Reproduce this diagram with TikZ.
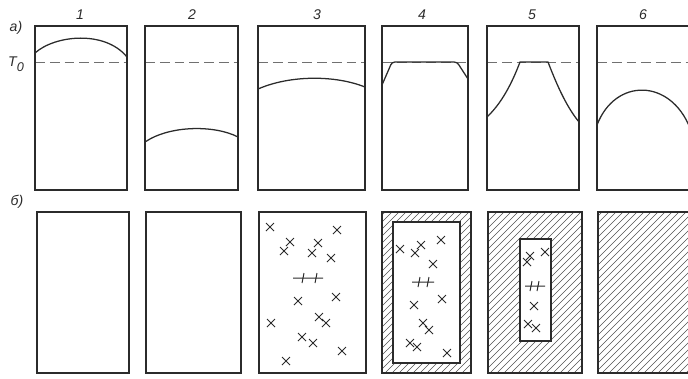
\documentclass[tikz,border=0pt]{standalone}
\usepackage{fontspec}
\setmainfont{Liberation Sans}
\usepackage{tikz}
\definecolor{PlateLine}{HTML}{2B2B2B}
\definecolor{PlateDash}{HTML}{707070}
\definecolor{PlateHatch}{HTML}{505050}

\begin{document}
\begin{tikzpicture}[x=0.025cm,y=-0.025cm,
    frame/.style={PlateLine,line width=1.1pt},
    prof/.style={PlateLine,line width=0.9pt},
    tnull/.style={PlateDash,line width=0.7pt,dash pattern=on 7pt off 3.5pt},
    hatch/.style={PlateHatch,line width=0.35pt},
    cross/.style={PlateLine,line width=0.7pt},
    lbl/.style={font=\fontsize{10}{12}\selectfont\itshape,text=PlateLine,inner sep=0pt}]
  \useasboundingbox (0,0) rectangle (688,378);

  % upper row: temperature over the cross-section
  \foreach \a/\b/\c/\n in {35/127/80/1,145/238/192/2,258/365/317/3,382/468/422/4,487/579/532/5,597/700/643/6} {
    \draw[tnull] (\a,62) -- (\b,62);
    \draw[frame] (\a,26) rectangle (\b,190);
    \node[lbl] (num\n) at (\c,15) {\n};
  }
  \draw[prof] (35,53) .. controls (55,35) and (105,30) .. (127,57);
  \draw[prof] (145,142) .. controls (170,125) and (215,125) .. (238,137);
  \draw[prof] (258,89) .. controls (290,75) and (335,75) .. (365,87);
  \draw[prof,rounded corners=2pt] (382,85) -- (392,62) -- (457,62) -- (468,79);
  \draw[prof] (487,117) .. controls (505,100) and (515,75) .. (520,62) -- (548,62)
    .. controls (555,80) and (565,105) .. (579,122);
  \draw[prof] (597,125) .. controls (615,78) and (670,78) .. (690,128);

  % lower row: structure
  \begin{scope}
    \clip (382,212) rectangle (471,373) (488,212) rectangle (582,373) (598,212) rectangle (700,373);
    \foreach \c in {590,597,...,1085}
      \draw[hatch] (\c-380,380) -- (\c-205,205);
  \end{scope}
  \foreach \a/\b in {37/129,146/241,259/366,382/471,488/582,598/700}
    \draw[frame] (\a,212) rectangle (\b,373);
  \filldraw[frame,fill=white] (393,222) rectangle (460,363);
  \filldraw[frame,fill=white] (520,239) rectangle (551,341);

  % crystals
  \foreach \x/\y in {270/227,337/230,290/242,318/243,284/251,312/253,331/258,336/297,
                     298/301,271/323,319/317,326/323,302/337,313/343,342/351,286/361,
                     400/249,421/245,415/253,441/240,433/264,442/299,414/305,423/323,
                     429/330,410/343,417/347,447/353,
                     530/256,527/262,545/252,534/306,528/324,536/328}
    \draw[cross] (\x-4,\y-4) -- (\x+4,\y+4) (\x-4,\y+4) -- (\x+4,\y-4);
  \foreach \x/\y/\w/\p/\q in {308/278/15/-5/8,423/282/11/-4/5,535/286/10/-4/3}
    \draw[cross] (\x-\w,\y) -- (\x+\w,\y) (\x+\p-1,\y+5) -- (\x+\p+1,\y-5)
      (\x+\q-1,\y+5) -- (\x+\q+1,\y-5);

  \node[lbl] (rowa) at (16,28) {а)};
  \node[lbl] (tnul) at (16,64) {T\raisebox{-0.6ex}{\small 0}};
  \node[lbl] (rowb) at (17,202) {б)};
\end{tikzpicture}
\end{document}
